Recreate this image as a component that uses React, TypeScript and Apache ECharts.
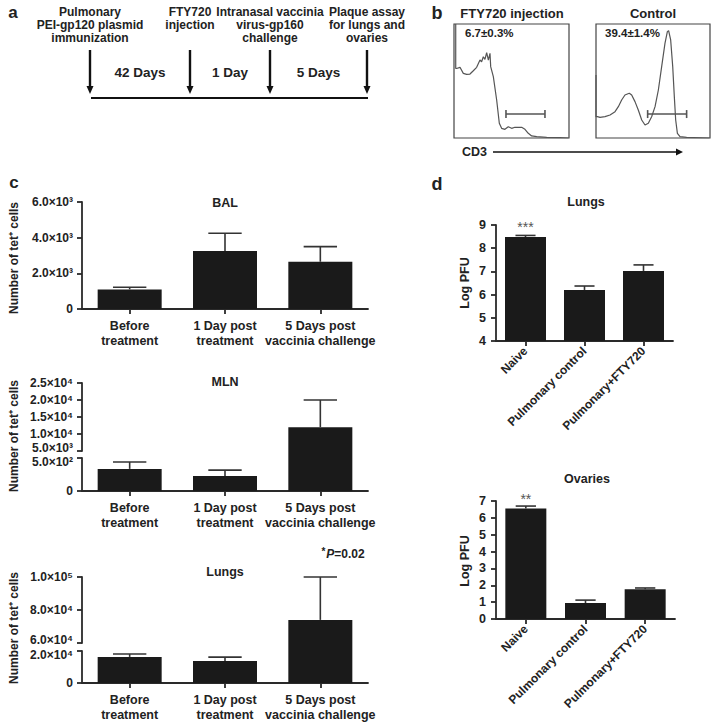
import React, { useEffect, useRef } from 'react';
import * as echarts from 'echarts';

// ---------- DATA ----------
const C_CATEGORIES = ['Before\ntreatment', '1 Day post\ntreatment', '5 Days post\nvaccinia challenge'];
const BAL_MEAN = [1100, 3250, 2650];
const BAL_ERR = [120, 1000, 850];
const MLN_MEAN = [335, 227, 12000];
const MLN_ERR = [105, 90, 8000];
const LUNGC_MEAN = [16300, 13700, 74000];
const LUNGC_ERR = [1800, 2500, 26000];

const D_CATEGORIES = ['Naive', 'Pulmonary control', 'Pulmonary+FTY720'];
const D_LUNGS_MEAN = [8.48, 6.2, 7.02];
const D_LUNGS_ERR = [0.07, 0.17, 0.26];
const D_LUNGS_SIG = ['***', '', ''];
const D_OVARIES_MEAN = [6.55, 0.95, 1.77];
const D_OVARIES_ERR = [0.15, 0.17, 0.07];
const D_OVARIES_SIG = ['**', '', ''];

// flow histograms (CD3 channel %, relative count %)
const FTY_HIST = [
  [1.5, 100], [1.5, 61], [2.3, 61], [5.2, 62], [8.1, 56.7], [11, 55.8], [13.9, 56.1], [16.8, 59],
  [19.7, 62], [22.6, 68.4], [24, 66.9], [25.5, 71.3], [26.9, 69], [28.4, 74.8], [29.9, 68.4],
  [31.3, 74.3], [31.9, 62.6], [34.2, 53.8], [37.1, 33.3], [39.4, 12.9], [41.4, 8.5], [44.3, 7.6],
  [47.2, 9.9], [50.1, 8.5], [53, 9.4], [55.9, 9.4], [58.8, 9.4], [61.7, 7.6], [64.6, 4.1],
  [67.5, 1.8], [71.9, 1.2], [80.6, 0.6], [92.2, 0.3], [99.5, 0],
];
const CTRL_HIST = [
  [0, 55.3], [0, 18.7], [1.2, 18.7], [3.5, 18.1], [7.9, 18.7], [12.3, 20.2], [16.7, 23.1],
  [19.6, 27.5], [22.5, 33.3], [25.4, 37.7], [29.2, 39.2], [31.3, 37.7], [34.2, 31.9], [37.1, 24.6],
  [40.1, 15.8], [43, 11.4], [45.9, 12.9], [48.8, 18.7], [51.8, 27.5], [54.7, 42.1], [57.6, 62.6],
  [60.5, 83], [62.6, 93.3], [63.7, 94.2], [65.5, 86], [67.3, 62.6], [68.7, 36.3], [69.9, 15.8],
  [71.4, 4.1], [73.7, 1.2], [79.5, 0.6], [99.4, 0],
];
const FTY_GATE = [45.2, 79.1];
const CTRL_GATE = [45.3, 79.5];
const GATE_LEVEL = 21;
const FTY_PCT = '6.7±0.3%';
const CTRL_PCT = '39.4±1.4%';

const A_EVENTS = [
  ['Pulmonary', 'PEI-gp120 plasmid', 'immunization'],
  ['FTY720', 'injection'],
  ['Intranasal vaccinia', 'virus-gp160', 'challenge'],
  ['Plaque assay', 'for lungs and', 'ovaries'],
];
const A_INTERVALS = ['42 Days', '1 Day', '5 Days'];

// ---------- STYLE ----------
const FONT = 'Liberation Sans, Arial, Helvetica, sans-serif';
const INK = '#222';
const AX = '#2a2a2a';
const BAR = '#1a1a1a';

const SUP: Record<number, string> = { 2: '²', 3: '³', 4: '⁴', 5: '⁵' };
const sciFmt = (v: number) => {
  if (v === 0) return '0';
  const e = Math.floor(Math.log10(v) + 1e-9);
  const m = v / Math.pow(10, e);
  return `${m.toFixed(1)}×10${SUP[e] || e}`;
};

const axisLine = { show: true, lineStyle: { color: AX, width: 1.8 } };
const axisTick = { show: true, length: 5, lineStyle: { color: AX, width: 1.8 } };

function errRender(capFrac: number) {
  return (params: any, api: any) => {
    const x = api.value(0);
    const hi = api.coord([x, api.value(1)]);
    const lo = api.coord([x, api.value(2)]);
    const half = api.size([1, 0])[0] * capFrac;
    const st = { stroke: '#333', lineWidth: 1.6 };
    return {
      type: 'group',
      children: [
        { type: 'line', shape: { x1: hi[0], y1: hi[1], x2: lo[0], y2: lo[1] }, style: st },
        { type: 'line', shape: { x1: hi[0] - half, y1: hi[1], x2: hi[0] + half, y2: hi[1] }, style: st },
      ],
    };
  };
}

function errData(mean: number[], err: number[], pick: (m: number, e: number) => boolean) {
  return mean.map((m, i) => (pick(m, err[i]) ? [i, m + err[i], m] : [i, '-', '-']));
}

export default function App() {
  const ref = useRef<HTMLDivElement>(null);
  useEffect(() => {
    if (!ref.current) return;
    const chart = echarts.init(ref.current, undefined, { renderer: 'svg' });

    // grid geometry
    const cL = 82, cW = 286;
    const mlnUp = { top: 383, bottom: 451, min: 5000, max: 25000 };
    const mlnLow = { top: 458, bottom: 491, min: 0, max: 500 };
    const lcUp = { top: 577, bottom: 643, min: 60000, max: 100000 };
    const lcLow = { top: 651, bottom: 683, min: 0, max: 20000 };
    const extMin = (up: any, low: any) =>
      up.min - ((low.top - up.bottom) * (up.max - up.min)) / (up.bottom - up.top);

    const grids = [
      { left: cL, top: 202, width: cW, height: 107 }, // 0 BAL
      { left: cL, top: mlnUp.top, width: cW, height: mlnUp.bottom - mlnUp.top }, // 1 MLN upper axis
      { left: cL, top: mlnUp.top, width: cW, height: mlnLow.top - mlnUp.top }, // 2 MLN overlay
      { left: cL, top: mlnLow.top, width: cW, height: mlnLow.bottom - mlnLow.top }, // 3 MLN lower
      { left: cL, top: lcUp.top, width: cW, height: lcUp.bottom - lcUp.top }, // 4 Lungs upper axis
      { left: cL, top: lcUp.top, width: cW, height: lcLow.top - lcUp.top }, // 5 Lungs overlay
      { left: cL, top: lcLow.top, width: cW, height: lcLow.bottom - lcLow.top }, // 6 Lungs lower
      { left: 496, top: 225, width: 177, height: 116 }, // 7 d lungs
      { left: 496, top: 501, width: 179, height: 118 }, // 8 d ovaries
      { left: 454, top: 24, width: 115, height: 114, show: true, borderColor: '#444', borderWidth: 1.2 }, // 9
      { left: 596, top: 24, width: 114, height: 114, show: true, borderColor: '#444', borderWidth: 1.2 }, // 10
    ];

    const cLabel = {
      show: true, interval: 0, fontFamily: FONT, fontWeight: 'bold', fontSize: 12.5,
      lineHeight: 15, color: INK, margin: 9,
    };
    const dLabel = {
      show: true, interval: 0, rotate: 45, fontFamily: FONT, fontWeight: 'bold', fontSize: 12,
      color: INK, margin: 8,
    };
    const catShown = (gi: number, data: string[], label: any) => ({
      type: 'category', gridIndex: gi, data, axisLine, axisTick: { ...axisTick, alignWithLabel: true },
      axisLabel: label,
    });
    const catHidden = (gi: number, data: string[]) => ({ type: 'category', gridIndex: gi, data, show: false });

    const xAxis = [
      catShown(0, C_CATEGORIES, cLabel),
      catHidden(1, C_CATEGORIES),
      catHidden(2, C_CATEGORIES),
      catShown(3, C_CATEGORIES, cLabel),
      catHidden(4, C_CATEGORIES),
      catHidden(5, C_CATEGORIES),
      catShown(6, C_CATEGORIES, cLabel),
      catShown(7, D_CATEGORIES, dLabel),
      catShown(8, D_CATEGORIES, dLabel),
      { type: 'value', gridIndex: 9, min: 0, max: 100, show: false },
      { type: 'value', gridIndex: 10, min: 0, max: 100, show: false },
    ];

    const sciRich = {
      n: { fontFamily: FONT, fontWeight: 'bold', fontSize: 12, color: INK },
      up: { fontFamily: FONT, fontWeight: 'bold', fontSize: 12, color: INK, padding: [0, 0, 7, 0] },
      dn: { fontFamily: FONT, fontWeight: 'bold', fontSize: 12, color: INK, padding: [8, 0, 0, 0] },
    };
    // shift: for an axis segment next to a break, nudge its end label away from the break
    const yLabelSci = (shiftMin = false, shiftMax = false, min = 0, max = 0) => ({
      show: true, margin: 9, rich: sciRich,
      formatter: (v: number) => {
        const s = sciFmt(v);
        if (shiftMin && v === min) return `{up|${s}}`;
        if (shiftMax && v === max) return `{dn|${s}}`;
        return `{n|${s}}`;
      },
    });
    const yVal = (gi: number, min: number, max: number, interval: number, label: any) => ({
      type: 'value', gridIndex: gi, min, max, interval, axisLine, axisTick, splitLine: { show: false },
      axisLabel: label,
    });
    const yLabelD = { show: true, fontFamily: FONT, fontWeight: 'bold', fontSize: 12.5, color: INK, margin: 10 };

    const yAxis = [
      yVal(0, 0, 6000, 2000, yLabelSci()),
      yVal(1, mlnUp.min, mlnUp.max, 5000, yLabelSci(true, false, mlnUp.min, mlnUp.max)),
      { type: 'value', gridIndex: 2, min: extMin(mlnUp, mlnLow), max: mlnUp.max, show: false },
      yVal(3, mlnLow.min, mlnLow.max, 500, yLabelSci(false, true, mlnLow.min, mlnLow.max)),
      yVal(4, lcUp.min, lcUp.max, 20000, yLabelSci(true, false, lcUp.min, lcUp.max)),
      { type: 'value', gridIndex: 5, min: extMin(lcUp, lcLow), max: lcUp.max, show: false },
      yVal(6, lcLow.min, lcLow.max, 20000, yLabelSci(false, true, lcLow.min, lcLow.max)),
      yVal(7, 4, 9, 1, yLabelD),
      yVal(8, 0, 7, 1, yLabelD),
      { type: 'value', gridIndex: 9, min: 0, max: 100, show: false },
      { type: 'value', gridIndex: 10, min: 0, max: 100, show: false },
    ];

    const bar = (gi: number, data: any[], width: number, extra: any = {}) => ({
      type: 'bar', xAxisIndex: gi, yAxisIndex: gi, data, barWidth: width, clip: true,
      itemStyle: { color: BAR, borderWidth: 0 }, z: 2, ...extra,
    });
    const err = (gi: number, data: any[], capFrac: number) => ({
      type: 'custom', xAxisIndex: gi, yAxisIndex: gi, data, renderItem: errRender(capFrac),
      encode: { x: 0, y: [1, 2] }, z: 3,
    });
    const sigLabel = (sig: string[]) => ({
      show: true, position: 'top', distance: 3, color: '#555', fontFamily: FONT, fontSize: 14,
      formatter: (p: any) => sig[p.dataIndex],
    });
    const hist = (gi: number, data: number[][]) => ({
      type: 'line', xAxisIndex: gi, yAxisIndex: gi, data, showSymbol: false, symbol: 'none',
      lineStyle: { color: '#555', width: 1.2 },
    });
    const gate = (gi: number, g: number[]) => ({
      type: 'line', xAxisIndex: gi, yAxisIndex: gi, data: [[g[0], GATE_LEVEL], [g[1], GATE_LEVEL]],
      symbol: 'rect', symbolSize: [1.6, 8], itemStyle: { color: '#555' },
      lineStyle: { color: '#555', width: 1.6 },
    });

    const series: any[] = [
      bar(0, BAL_MEAN, 64),
      err(0, errData(BAL_MEAN, BAL_ERR, () => true), 0.175),
      // MLN
      bar(3, MLN_MEAN, 64),
      err(3, errData(MLN_MEAN, MLN_ERR, (m, e) => m + e <= mlnLow.max), 0.175),
      bar(2, MLN_MEAN.map((v) => (v > mlnLow.max ? v : '-')), 64),
      err(2, errData(MLN_MEAN, MLN_ERR, (m) => m > mlnLow.max), 0.175),
      // Lungs (c)
      bar(6, LUNGC_MEAN, 64),
      err(6, errData(LUNGC_MEAN, LUNGC_ERR, (m, e) => m + e <= lcLow.max), 0.175),
      bar(5, LUNGC_MEAN.map((v) => (v > lcLow.max ? v : '-')), 64),
      err(5, errData(LUNGC_MEAN, LUNGC_ERR, (m) => m > lcLow.max), 0.175),
      // d
      bar(7, D_LUNGS_MEAN, 41, { label: sigLabel(D_LUNGS_SIG) }),
      err(7, errData(D_LUNGS_MEAN, D_LUNGS_ERR, () => true), 0.17),
      bar(8, D_OVARIES_MEAN, 41, { label: sigLabel(D_OVARIES_SIG) }),
      err(8, errData(D_OVARIES_MEAN, D_OVARIES_ERR, () => true), 0.17),
      // flow
      hist(9, FTY_HIST),
      gate(9, FTY_GATE),
      hist(10, CTRL_HIST),
      gate(10, CTRL_GATE),
    ];

    // ---------- graphics ----------
    const txt = (x: number, y: number, text: string, size: number, extra: any = {}) => ({
      type: 'text', x, y,
      style: {
        text, fill: INK, font: `bold ${size}px ${FONT}`, textAlign: 'center', textVerticalAlign: 'middle',
        ...extra,
      },
    });
    const g: any[] = [];
    // panel letters
    g.push(txt(13, 12, 'a', 17), txt(437, 13, 'b', 18), txt(14, 182, 'c', 17), txt(437, 184, 'd', 18));
    // panel a
    const evX = [90, 190, 270, 367];
    A_EVENTS.forEach((lines, i) => {
      lines.forEach((l, j) => g.push(txt(evX[i], 12 + j * 13, l, 12)));
      g.push({ type: 'line', shape: { x1: evX[i], y1: 50, x2: evX[i], y2: 88 }, style: { stroke: '#111', lineWidth: 2.4 } });
      g.push({ type: 'polygon', shape: { points: [[evX[i] - 3.5, 86], [evX[i] + 3.5, 86], [evX[i], 94]] }, style: { fill: '#111' } });
    });
    A_INTERVALS.forEach((t, i) => g.push(txt((evX[i] + evX[i + 1]) / 2, 72, t, 13.5)));
    g.push({ type: 'line', shape: { x1: 91, y1: 98, x2: 368, y2: 98 }, style: { stroke: '#111', lineWidth: 2 } });
    // panel b
    g.push(txt(512, 13, 'FTY720 injection', 13), txt(653, 13, 'Control', 13));
    g.push(txt(465, 33, FTY_PCT, 11.5, { textAlign: 'left' }), txt(605, 33, CTRL_PCT, 11.5, { textAlign: 'left' }));
    g.push(txt(462, 152, 'CD3', 12.5, { textAlign: 'left' }));
    g.push({ type: 'line', shape: { x1: 493, y1: 152, x2: 677, y2: 152 }, style: { stroke: '#111', lineWidth: 1.5 } });
    g.push({ type: 'polygon', shape: { points: [[676, 148.5], [676, 155.5], [683, 152]] }, style: { fill: '#111' } });
    // panel c titles
    g.push(txt(225, 203, 'BAL', 12.5), txt(225, 382, 'MLN', 12.5), txt(225, 572, 'Lungs', 12.5));
    const yTitle = (x: number, y: number, t: string, size: number) => ({
      type: 'text', x, y, rotation: Math.PI / 2,
      style: { text: t, fill: INK, font: `bold ${size}px ${FONT}`, textAlign: 'center', textVerticalAlign: 'middle' },
    });
    g.push(yTitle(14, 258, 'Number of tet⁺ cells', 12), yTitle(14, 436, 'Number of tet⁺ cells', 12), yTitle(14, 628, 'Number of tet⁺ cells', 12));
    g.push({
      type: 'text', x: 343, y: 554,
      style: {
        text: '{s|*}{i|P}{n|=0.02}', textAlign: 'center', textVerticalAlign: 'middle',
        rich: {
          s: { font: `bold 10px ${FONT}`, fill: INK, padding: [0, 1, 5, 0] },
          i: { font: `italic bold 12px ${FONT}`, fill: INK },
          n: { font: `bold 12px ${FONT}`, fill: INK },
        },
      },
    });
    // panel d titles
    g.push(txt(586, 202, 'Lungs', 12.5), txt(587, 479, 'Ovaries', 12.5));
    g.push(yTitle(465, 283, 'Log PFU', 12.5), yTitle(465, 561, 'Log PFU', 12.5));

    chart.setOption({
      animation: false,
      backgroundColor: '#fff',
      grid: grids,
      xAxis,
      yAxis,
      series,
      graphic: g,
    });
    return () => chart.dispose();
  }, []);
  return <div ref={ref} style={{ position: 'absolute', left: 0, top: 0, width: 711, height: 723, background: '#fff' }} />;
}
